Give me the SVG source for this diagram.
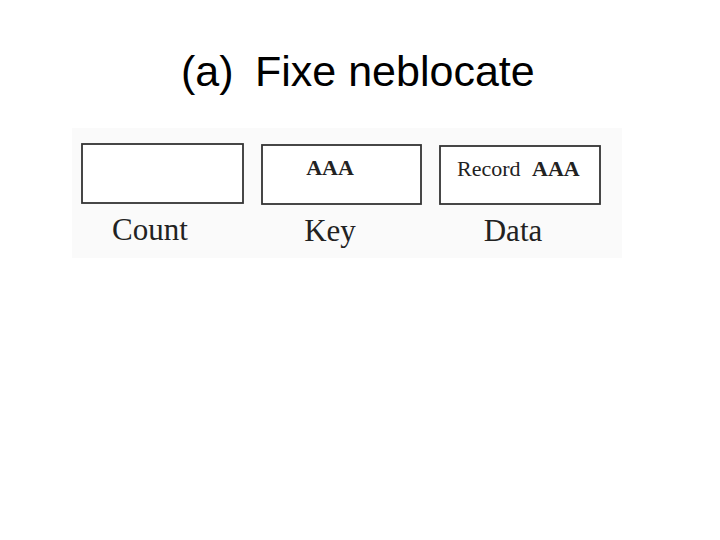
<svg xmlns="http://www.w3.org/2000/svg" width="720" height="540" viewBox="0 0 720 540">
<style>
.box{fill:#ffffff;stroke:#333333;stroke-width:1.8}
.lbl{font-family:"Liberation Serif",serif;font-size:31px;fill:#222222;text-anchor:middle}
.in{font-family:"Liberation Serif",serif;font-size:22px;fill:#222222}
.title{font-family:"Liberation Sans",Arial,sans-serif;font-size:43px;fill:#000000}
</style>
<rect width="720" height="540" fill="#ffffff"/>
<text class="title" x="181" y="86">(a)</text>
<text class="title" x="255" y="86">Fixe neblocate</text>
<rect x="72" y="128" width="550" height="130" fill="#fafafa"/>
<g id="count">
<rect class="box" x="82" y="144" width="161" height="59"/>
<text class="lbl" x="150" y="240">Count</text>
</g>
<g id="key">
<rect class="box" x="262" y="145" width="159" height="59"/>
<text class="in" x="330" y="175" text-anchor="middle" font-weight="bold">AAA</text>
<text class="lbl" x="330" y="241">Key</text>
</g>
<g id="data">
<rect class="box" x="440" y="146" width="160" height="58"/>
<text class="in" x="457" y="176">Record <tspan font-weight="bold" dx="6">AAA</tspan></text>
<text class="lbl" x="513" y="241">Data</text>
</g>
<g id="connectors"/>
</svg>
